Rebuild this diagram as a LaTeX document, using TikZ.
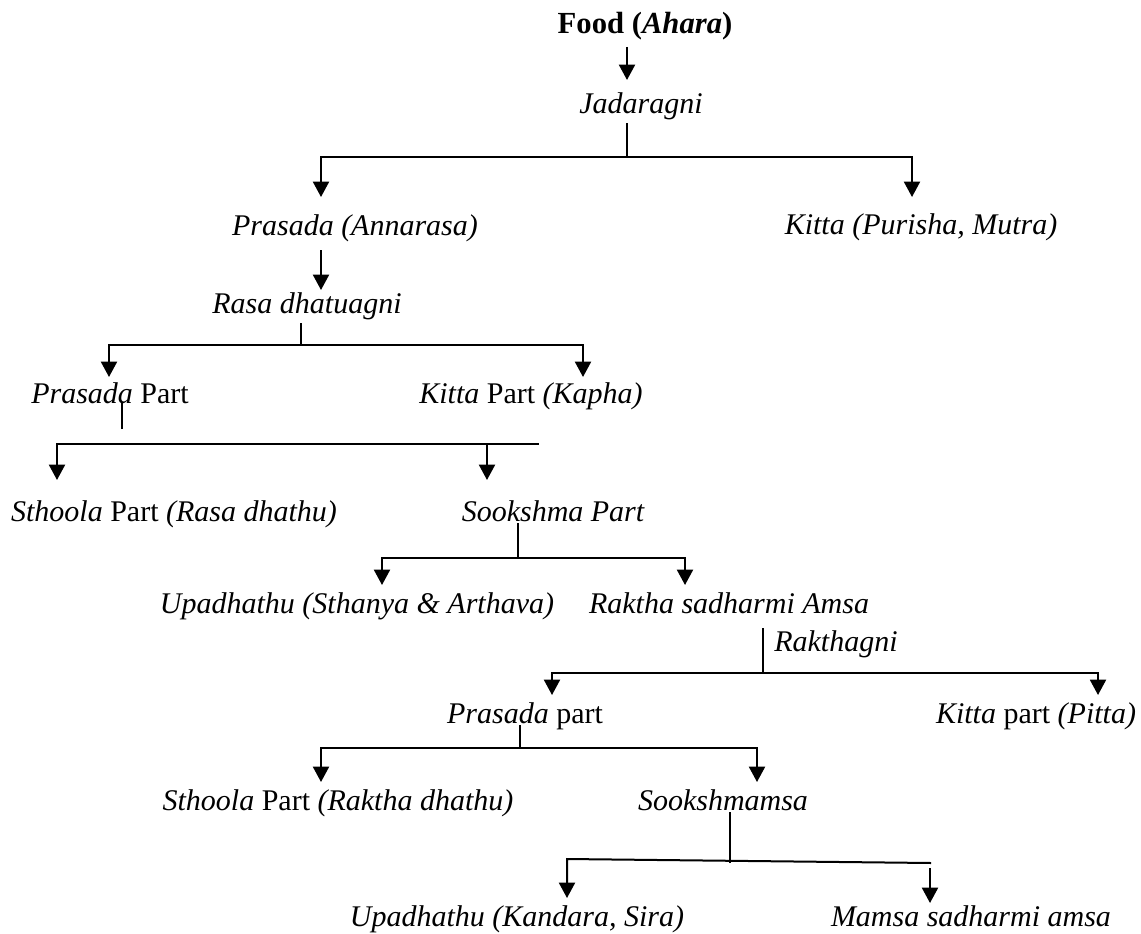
\documentclass[tikz,border=0pt]{standalone}
\usepackage{fontspec}
\setmainfont{Liberation Serif}
\usetikzlibrary{arrows.meta,calc}

\begin{document}
\begin{tikzpicture}[x=0.75pt, y=-0.75pt, >={Triangle[length=11.5pt,width=12pt]}]
  \tikzstyle{lbl}=[inner sep=0pt, yshift=-4pt, text height=0.7em, text depth=0.22em, font=\fontsize{22.5}{27}\selectfont\itshape]
  \tikzstyle{bar}=[line width=1.5pt, line join=miter]
  \tikzstyle{stem}=[line width=0.8pt]
  \tikzstyle{arr}=[bar, ->]
  \useasboundingbox (0,0) rectangle (1141,934);

  \node[lbl, font=\fontsize{23}{27}\selectfont\bfseries] (food) at (645,25) {Food (\textit{Ahara})};
  \node[lbl] (jad) at (641,105) {Jadaragni};
  \node[lbl] (pras1) at (355,227) {Prasada (Annarasa)};
  \node[lbl] (kit1) at (921,226) {Kitta (Purisha, Mutra)};
  \node[lbl] (rasa) at (307,305) {Rasa dhatuagni};
  \node[lbl] (prasP) at (110,395) {Prasada \textup{Part}};
  \node[lbl] (kitP) at (531,395) {Kitta \textup{Part} (Kapha)};
  \node[lbl] (sth1) at (174,513) {Sthoola \textup{Part} (Rasa dhathu)};
  \node[lbl] (sook) at (553,513) {Sookshma Part};
  \node[lbl] (upa1) at (357,605) {Upadhathu (Sthanya \& Arthava)};
  \node[lbl] (rak) at (729,605) {Raktha sadharmi Amsa};
  \node[lbl, anchor=west] (ragni) at (774,643) {Rakthagni};
  \node[lbl] (prasp2) at (525,715) {Prasada \textup{part}};
  \node[lbl] (kitp2) at (1036,715) {Kitta \textup{part} (Pitta)};
  \node[lbl] (sth2) at (338,802) {Sthoola \textup{Part} (Raktha dhathu)};
  \node[lbl] (sookm) at (723,802) {Sookshmamsa};
  \node[lbl] (upa2) at (517,918) {Upadhathu (Kandara, Sira)};
  \node[lbl] (mamsa) at (971,918) {Mamsa sadharmi amsa};

  % food to jadaragni
  \coordinate (f0) at (627,47);
  \draw[arr] (f0) -- ++(0,33);
  % jadaragni
  \coordinate (j0) at (627,157);
  \coordinate (jl) at (321,157);
  \coordinate (jr) at (912,157);
  \draw[stem] (j0) -- ++(0,-34);
  \draw[bar, <->] ($(jl)+(0,40)$) -- (jl) -- (jr) -- ++(0,40);
  % annarasa to rasa dhatuagni
  \coordinate (p0) at (321,250);
  \draw[arr] (p0) -- ++(0,40);
  % rasa dhatuagni
  \coordinate (r0) at (301,345);
  \coordinate (rl) at (109,345);
  \coordinate (rr) at (583,345);
  \draw[stem] (r0) -- ++(0,-22);
  \draw[bar, <->] ($(rl)+(0,32)$) -- (rl) -- (rr) -- ++(0,32);
  % prasada part
  \coordinate (q0) at (122,429);
  \coordinate (ql) at (57,444);
  \coordinate (qm) at (487,444);
  \coordinate (qr) at (539,444);
  \draw[stem] (q0) -- ++(0,-27);
  \draw[bar, <-] ($(ql)+(0,36)$) -- (ql) -- (qr);
  \draw[arr] (qm) -- ++(0,36);
  % sookshma part
  \coordinate (s0) at (518,558);
  \coordinate (sl) at (382,558);
  \coordinate (sr) at (685,558);
  \draw[stem] (s0) -- ++(0,-35);
  \draw[bar, <->] ($(sl)+(0,27)$) -- (sl) -- (sr) -- ++(0,27);
  % raktha sadharmi amsa
  \coordinate (k0) at (763,673);
  \coordinate (kl) at (552,673);
  \coordinate (kr) at (1098,673);
  \draw[stem] (k0) -- ++(0,-45);
  \draw[bar, <->] ($(kl)+(0,22)$) -- (kl) -- (kr) -- ++(0,22);
  % prasada part (raktha)
  \coordinate (m0) at (520,748);
  \coordinate (ml) at (321,748);
  \coordinate (mr) at (757,748);
  \draw[stem] (m0) -- ++(0,-23);
  \draw[bar, <->] ($(ml)+(0,34)$) -- (ml) -- (mr) -- ++(0,34);
  % sookshmamsa
  \coordinate (n0) at (730,863);
  \coordinate (nl) at (567,859);
  \coordinate (nr) at (931,863);
  \coordinate (nt) at (930,868);
  \draw[stem] (n0) -- ++(0,-51);
  \draw[bar, <-] ($(nl)+(0,39)$) -- (nl) -- (nr);
  \draw[arr] (nt) -- ++(0,35);
\end{tikzpicture}
\end{document}
